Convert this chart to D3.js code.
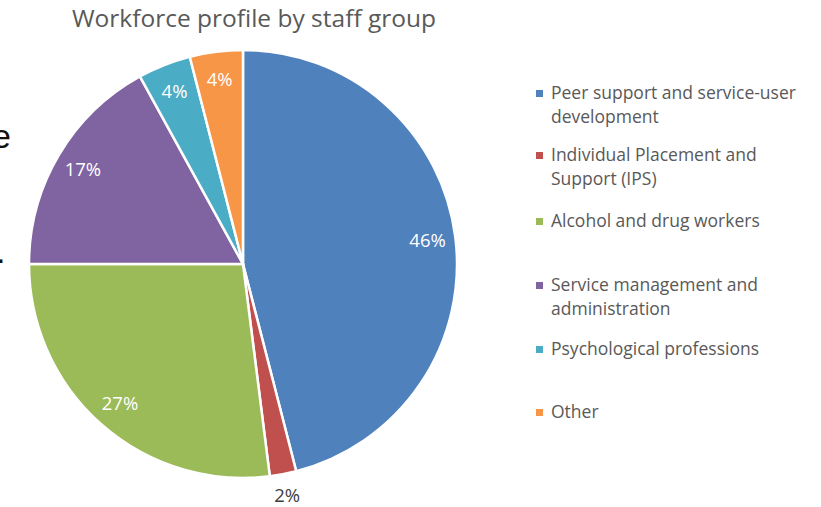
<!DOCTYPE html>
<html>
<head>
<meta charset="utf-8">
<script src="https://cdn.jsdelivr.net/npm/d3@7"></script>
<style>
  html, body { margin: 0; padding: 0; background: #fff; }
  svg { display: block; }
</style>
</head>
<body>
<svg id="chart" width="821" height="507"></svg>
<script>
// Staff groups and their share of the workforce (%)
const categories = [
  "Peer support and service-user development",
  "Individual Placement and Support (IPS)",
  "Alcohol and drug workers",
  "Service management and administration",
  "Psychological professions",
  "Other"
];
const values = [46, 2, 27, 17, 4, 4];
const legendLines = [
  ["Peer support and service-user", "development"],
  ["Individual Placement and", "Support (IPS)"],
  ["Alcohol and drug workers"],
  ["Service management and", "administration"],
  ["Psychological professions"],
  ["Other"]
];
const colors = ["#4F81BD", "#C0504D", "#9BBB59", "#8064A2", "#4BACC6", "#F79646"];

const FONT = "'Open Sans', 'Noto Sans', sans-serif";
const svg = d3.select("#chart");

// Fragments of neighbouring slide text at the left edge
svg.append("text").attr("x", -8).attr("y", 148)
  .attr("font-family", "Arial, 'Liberation Sans', sans-serif")
  .attr("font-size", 34).attr("fill", "#111").text("e");
svg.append("text").attr("x", -4).attr("y", 263)
  .attr("font-family", "Arial, 'Liberation Sans', sans-serif")
  .attr("font-size", 34).attr("fill", "#111").text(".");

// Title
svg.append("text")
  .attr("x", 254).attr("y", 27)
  .attr("text-anchor", "middle")
  .attr("font-family", FONT)
  .attr("font-size", 24.5)
  .attr("fill", "#595959")
  .text("Workforce profile by staff group");

// Pie
const cx = 243, cy = 264, R = 214;
const pie = d3.pie().value(d => d).sort(null);
const arcs = pie(values);
const arc = d3.arc().innerRadius(0).outerRadius(R);
const labelArc = d3.arc().innerRadius(186).outerRadius(186);
const outerLabelArc = d3.arc().innerRadius(236).outerRadius(236);

const g = svg.append("g").attr("transform", `translate(${cx},${cy})`);
g.selectAll("path.slice")
  .data(arcs)
  .join("path")
  .attr("class", "slice")
  .attr("d", arc)
  .attr("fill", (d, i) => colors[i])
  .attr("stroke", "#fff")
  .attr("stroke-width", 2.5)
  .attr("stroke-linejoin", "round");

g.selectAll("text.pct")
  .data(arcs)
  .join("text")
  .attr("class", "pct")
  .attr("transform", d => {
    const p = (d.data < 3 ? outerLabelArc : labelArc).centroid(d);
    return `translate(${p[0]},${p[1]})`;
  })
  .attr("text-anchor", "middle")
  .attr("dy", "0.36em")
  .attr("font-family", FONT)
  .attr("font-size", 18.5)
  .attr("fill", d => d.data < 3 ? "#404040" : "#fff")
  .text(d => d.data + "%");

// Legend
const legendY = [99, 161, 227, 291, 355, 418];
const lg = svg.append("g");
categories.forEach((c, i) => {
  const item = lg.append("g").attr("transform", `translate(536,${legendY[i]})`);
  item.append("rect").attr("x", 0).attr("y", -9).attr("width", 7).attr("height", 7)
    .attr("fill", colors[i]);
  legendLines[i].forEach((line, j) => {
    item.append("text")
      .attr("x", 15).attr("y", j * 24)
      .attr("font-family", FONT)
      .attr("font-size", 17.5)
      .attr("fill", "#595959")
      .text(line);
  });
});
</script>
</body>
</html>
